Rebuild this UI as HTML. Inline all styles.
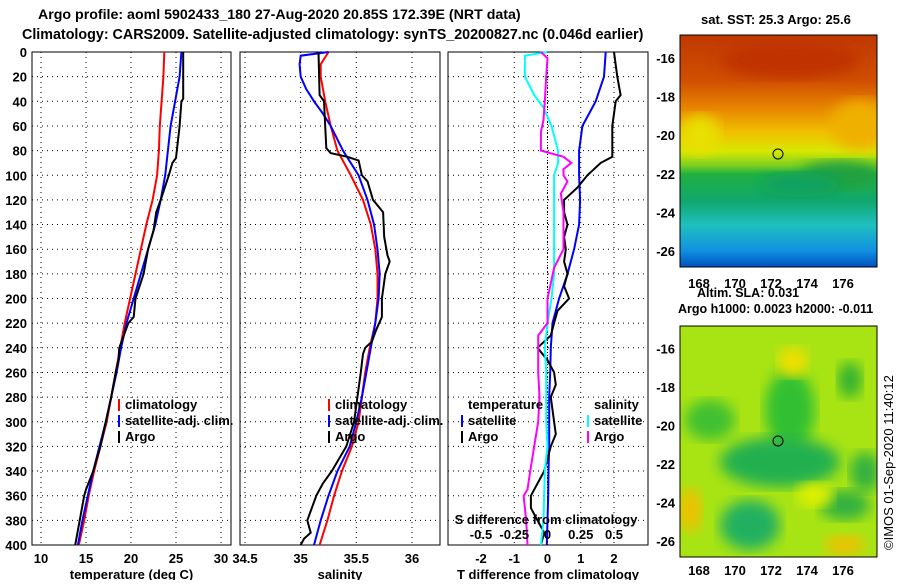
<!DOCTYPE html>
<html><head><meta charset="utf-8"><style>
html,body{margin:0;padding:0;background:#fff;}
svg text{font-family:"Liberation Sans",sans-serif;font-weight:bold;font-size:13px;fill:#000;}
</style></head><body>
<svg id="chart" width="900" height="580" xmlns="http://www.w3.org/2000/svg">
<defs>
<linearGradient id="sstg" x1="0" y1="0" x2="0" y2="1">
<stop offset="0" stop-color="#c03800"/><stop offset="0.2" stop-color="#d05000"/>
<stop offset="0.32" stop-color="#e88800"/><stop offset="0.42" stop-color="#f0c000"/>
<stop offset="0.5" stop-color="#d8e800"/><stop offset="0.56" stop-color="#80d020"/>
<stop offset="0.6" stop-color="#20b040"/><stop offset="0.72" stop-color="#10a870"/>
<stop offset="0.82" stop-color="#20c0c0"/><stop offset="0.93" stop-color="#1090e0"/>
<stop offset="1" stop-color="#0050c0"/>
</linearGradient>
<filter id="bl"><feGaussianBlur stdDeviation="7"/></filter>
<clipPath id="c1"><rect x="680" y="35" width="197" height="232"/></clipPath>
<clipPath id="c2"><rect x="680" y="326" width="197" height="231"/></clipPath>
</defs>
<text x="38" y="19" style="font-size:14.2px">Argo profile: aoml 5902433_180 27-Aug-2020 20.85S 172.39E (NRT data)</text>
<text x="22" y="39" style="font-size:14.3px">Climatology: CARS2009. Satellite-adjusted climatology: synTS_20200827.nc (0.046d earlier)</text>
<g id="panels"></g>
<g>
<text x="701" y="24">sat. SST: 25.3 Argo: 25.6</text>
<g clip-path="url(#c1)">
<rect x="680" y="35" width="197" height="232" fill="url(#sstg)"/>
<ellipse cx="790" cy="60" rx="70" ry="18" fill="#c03000" filter="url(#bl)"/>
<ellipse cx="860" cy="125" rx="30" ry="25" fill="#f0b000" filter="url(#bl)"/>
<ellipse cx="840" cy="175" rx="40" ry="14" fill="#20a040" filter="url(#bl)"/>
<ellipse cx="700" cy="135" rx="20" ry="20" fill="#e8e000" filter="url(#bl)"/>
<ellipse cx="800" cy="185" rx="40" ry="12" fill="#10a060" filter="url(#bl)"/>
</g>
<rect x="680" y="35" width="197" height="232" fill="none" stroke="#000"/>
<circle cx="778" cy="154" r="5" fill="none" stroke="#000"/>
</g>
<g>
<text x="697" y="297" style="font-size:12.5px">Altim. SLA: 0.031</text>
<text x="678" y="313" style="font-size:12.5px">Argo h1000: 0.0023 h2000: -0.011</text>
<g clip-path="url(#c2)">
<rect x="680" y="326" width="197" height="231" fill="#a8e414"/>
<ellipse cx="790" cy="410" rx="25" ry="40" fill="#30c030" filter="url(#bl)"/>
<ellipse cx="780" cy="462" rx="60" ry="25" fill="#20b050" filter="url(#bl)"/>
<ellipse cx="750" cy="525" rx="30" ry="25" fill="#20b060" filter="url(#bl)"/>
<ellipse cx="850" cy="380" rx="12" ry="18" fill="#30b030" filter="url(#bl)"/>
<ellipse cx="865" cy="472" rx="15" ry="20" fill="#30b040" filter="url(#bl)"/>
<ellipse cx="845" cy="505" rx="25" ry="15" fill="#30b040" filter="url(#bl)"/>
<ellipse cx="710" cy="420" rx="25" ry="20" fill="#40c030" filter="url(#bl)"/>
<ellipse cx="793" cy="362" rx="15" ry="15" fill="#f0e000" filter="url(#bl)"/>
<ellipse cx="690" cy="510" rx="12" ry="22" fill="#f0c000" filter="url(#bl)"/>
<ellipse cx="845" cy="545" rx="20" ry="10" fill="#f0c000" filter="url(#bl)"/>
<ellipse cx="815" cy="495" rx="18" ry="12" fill="#e0f000" filter="url(#bl)"/>
</g>
<rect x="680" y="326" width="197" height="231" fill="none" stroke="#000"/>
<circle cx="778" cy="441" r="5" fill="none" stroke="#000"/>
</g>
<text transform="translate(893,550) rotate(-90)" font-size="12" style="font-weight:normal">©IMOS 01-Sep-2020 11:40:12</text>
</svg>
<script>
const depthTicks=[0,20,40,60,80,100,120,140,160,180,200,220,240,260,280,300,320,340,360,380,400];
const tempTicks=[10,15,20,25,30];
const salTicks=[34.5,35,35.5,36];
const tdTicks=[-2,-1,0,1,2];
const sdTicks=[-0.5,-0.25,0,0.25,0.5];
const climT=[[0,23.7],[20,23.6],[40,23.4],[60,23.2],[80,23.1],[100,22.9],[120,22.4],[140,21.7],[160,21.1],[180,20.5],[200,19.9],[220,19.3],[240,18.8],[260,18.3],[280,17.8],[300,17.3],[320,16.6],[340,15.9],[360,15.3],[380,14.8],[400,14.2]];
const satT=[[0,25.6],[20,25.4],[40,24.9],[60,24.4],[80,24.1],[100,23.8],[120,23.3],[140,22.7],[160,21.9],[180,21.1],[200,20.3],[220,19.5],[240,18.9],[260,18.4],[280,17.8],[300,17.2],[320,16.5],[340,15.8],[360,15.2],[380,14.6],[400,14.1]];
const argoT=[[0,25.8],[38,25.8],[40,25.6],[60,25.4],[86,25.0],[90,24.6],[100,24.2],[120,23.3],[130,22.8],[145,22.5],[160,21.9],[180,21.4],[200,20.5],[215,20.3],[220,19.7],[240,18.7],[250,18.6],[260,18.3],[280,17.8],[300,17.2],[320,16.6],[340,15.8],[355,15.0],[360,14.8],[380,14.3],[400,13.8]];
const climS=[[0,35.25],[10,35.18],[20,35.18],[40,35.22],[60,35.27],[80,35.33],[100,35.45],[120,35.56],[140,35.63],[160,35.67],[180,35.69],[200,35.69],[220,35.67],[240,35.62],[260,35.58],[280,35.55],[300,35.52],[320,35.46],[340,35.37],[360,35.3],[380,35.24],[400,35.17]];
const satS=[[0,35.25],[3,35.0],[10,34.99],[20,35.0],[30,35.05],[40,35.12],[50,35.2],[60,35.27],[80,35.38],[100,35.52],[120,35.6],[140,35.66],[160,35.69],[180,35.71],[200,35.7],[220,35.67],[240,35.63],[260,35.59],[280,35.55],[300,35.5],[320,35.44],[340,35.33],[360,35.25],[380,35.18],[400,35.12]];
const argoS=[[0,35.16],[35,35.17],[40,35.21],[60,35.22],[78,35.23],[82,35.27],[85,35.42],[88,35.52],[100,35.55],[105,35.6],[120,35.65],[130,35.74],[150,35.75],[165,35.78],[170,35.8],[180,35.76],[200,35.73],[215,35.73],[225,35.68],[235,35.64],[240,35.58],[245,35.56],[260,35.54],[280,35.51],[300,35.48],[320,35.41],[340,35.28],[350,35.2],[360,35.14],[380,35.06],[390,35.09],[395,35.03],[400,35.0]];
const dTsat=[[0,1.75],[20,1.7],[40,1.45],[60,1.05],[80,0.95],[100,0.95],[120,0.98],[140,0.95],[160,0.8],[180,0.6],[200,0.35],[220,0.15],[240,0.1],[260,0.08],[280,0.05],[300,0.05],[320,0.05],[340,0.03],[360,0.02],[380,0.0],[400,-0.02]];
const dTargo=[[0,2.0],[20,2.1],[35,2.2],[40,2.05],[60,1.95],[85,1.95],[90,1.6],[100,1.2],[110,0.9],[120,0.5],[130,0.5],[140,0.6],[150,0.5],[160,0.55],[170,0.5],[180,0.6],[190,0.5],[200,0.65],[210,0.3],[220,0.2],[230,0.1],[240,-0.3],[250,0.0],[260,0.2],[270,0.25],[280,0.1],[300,0.2],[310,0.25],[320,0.1],[340,-0.1],[360,-0.5],[370,-0.5],[380,-0.3],[390,-0.1],[400,-0.2]];
const dSsat=[[0,0],[3,-0.17],[20,-0.17],[35,-0.1],[45,-0.03],[60,0.03],[80,0.08],[90,0.08],[100,0.05],[180,0.05],[200,0.03],[220,0.0],[240,-0.02],[260,-0.01],[300,-0.01],[320,0.0],[340,-0.02],[380,-0.03],[400,-0.05]];
const dSargo=[[0,-0.05],[5,0.0],[20,-0.01],[40,-0.02],[55,-0.03],[65,-0.05],[80,-0.05],[85,0.12],[90,0.18],[95,0.12],[100,0.12],[105,0.15],[115,0.1],[130,0.12],[160,0.12],[175,0.05],[190,0.02],[200,0.0],[220,0.0],[230,-0.07],[260,-0.07],[280,-0.06],[300,-0.07],[320,-0.1],[340,-0.13],[355,-0.15],[360,-0.18],[380,-0.16],[400,-0.15]];

const NS='http://www.w3.org/2000/svg';
const root=document.getElementById('panels');
const Y0=52,Y1=545;
function yD(d){return Y0+d*(Y1-Y0)/400;}
function mk(tag,attrs,parent){const e=document.createElementNS(NS,tag);for(const k in attrs)e.setAttribute(k,attrs[k]);(parent||root).appendChild(e);return e;}
function txt(x,y,s,anchor,parent){const t=mk('text',{x:x,y:y,'text-anchor':anchor||'middle'},parent);t.textContent=s;return t;}
function lin(v0,x0,v1,x1){return v=>x0+(v-v0)*(x1-x0)/(v1-v0);}
function panel(name,px0,px1,xf,ticks,xlabel,showDepth){
  const g=mk('g',{});
  
  
  depthTicks.forEach(d=>{if(d>0&&d<400)mk('line',{x1:px0,x2:px1,y1:yD(d),y2:yD(d),stroke:'#000','stroke-dasharray':'1,4'},g);
    if(showDepth){txt(27,yD(d)+5,String(d),'end',g);}});
  ticks.forEach(v=>{const x=xf(v);if(x>px0+2&&x<px1-2)mk('line',{x1:x,x2:x,y1:Y0,y2:Y1,stroke:'#000','stroke-dasharray':'1,4'},g);});
  mk('rect',{x:px0,y:Y0,width:px1-px0,height:Y1-Y0,fill:'none',stroke:'#000','stroke-width':1},g);
  ticks.forEach(v=>txt(xf(v),563,String(v),'middle',g));
  txt((px0+px1)/2,579,xlabel,'middle',g);
  return g;
}
function series(g,name,data,xf,color,w){
  const p=mk('polyline',{points:data.map(d=>xf(d[1]).toFixed(1)+','+yD(d[0]).toFixed(1)).join(' '),fill:'none',stroke:color,'stroke-width':w},g);
  
  
}
function legend(g,x,y,items){
  items.forEach((it,i)=>{mk('rect',{x:x,y:y+i*16-10,width:2,height:12,fill:it[1]},g);txt(x+7,y+i*16,it[0],'start',g);});
}
const xT=lin(10,41,30,221);
const g1=panel('temperature-panel',32,231,xT,tempTicks,'temperature (deg C)',true);
series(g1,'temp-climatology-line',climT,xT,'#ff0000',2);
series(g1,'temp-satellite-line',satT,xT,'#0000ff',2);
series(g1,'temp-argo-line',argoT,xT,'#000000',2);
legend(g1,118,409,[['climatology','#ff0000'],['satellite-adj. clim.','#0000ff'],['Argo','#000']]);
const xS=lin(34.5,245,36,412);
const g2=panel('salinity-panel',240,440,xS,salTicks,'salinity',false);
series(g2,'sal-climatology-line',climS,xS,'#ff0000',2);
series(g2,'sal-satellite-line',satS,xS,'#0000ff',2);
series(g2,'sal-argo-line',argoS,xS,'#000000',2);
legend(g2,328,409,[['climatology','#ff0000'],['satellite-adj. clim.','#0000ff'],['Argo','#000']]);
const xdT=lin(-2,481,2,614);
const xdS=lin(-0.5,481,0.5,614);
const g3=panel('difference-panel',448,648,xdT,tdTicks,'T difference from climatology',false);
mk('line',{x1:xdT(0),x2:xdT(0),y1:Y0,y2:Y1,stroke:'#000','stroke-dasharray':'1,2'},g3);
series(g3,'dT-satellite-line',dTsat,xdT,'#0000ff',2);
series(g3,'dT-argo-line',dTargo,xdT,'#000000',2);
series(g3,'dS-satellite-line',dSsat,xdS,'#00ffff',2);
series(g3,'dS-argo-line',dSargo,xdS,'#ff00ff',2);
txt(468,409,'temperature','start',g3);
txt(594,409,'salinity','start',g3);
legend(g3,461,425,[['satellite','#0000ff'],['Argo','#000']]);
legend(g3,587,425,[['satellite','#00ffff'],['Argo','#ff00ff']]);
txt(546,524,'S difference from climatology','middle',g3);
sdTicks.forEach(v=>txt(xdS(v),539,String(v),'middle',g3));
function mapAxes(name,y0,h,latY,lblOff){
  const g=mk('g',{});
  
  
  [-16,-18,-20,-22,-24,-26].forEach(la=>{const y=latY(la);txt(675,y+5,String(la),'end',g);
    mk('line',{x1:680,x2:684,y1:y,y2:y,stroke:'#000'},g);mk('line',{x1:873,x2:877,y1:y,y2:y,stroke:'#000'},g);});
  [168,170,172,174,176].forEach(lo=>{const x=699+(lo-168)*18;txt(x,y0+h+lblOff,String(lo),'middle',g);
    mk('line',{x1:x,x2:x,y1:y0,y2:y0+4,stroke:'#000'},g);mk('line',{x1:x,x2:x,y1:y0+h-4,y2:y0+h,stroke:'#000'},g);});
}
mapAxes('sst-map-axes',35,232,la=>58+(-16-la)*19.3,21);
mapAxes('sla-map-axes',326,231,la=>348.5+(-16-la)*19.25,18);
</script>
</body></html>
